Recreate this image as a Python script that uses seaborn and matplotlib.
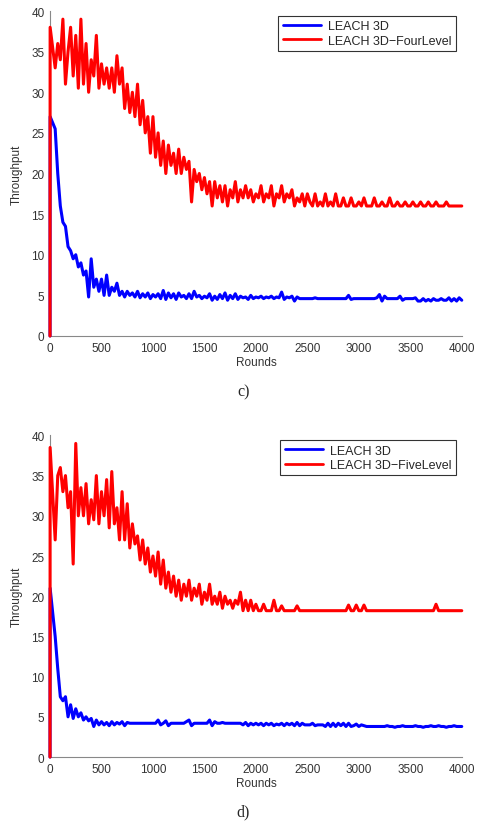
import numpy as np
import pandas as pd
import seaborn as sns
import matplotlib
matplotlib.use('Agg')
import matplotlib.pyplot as plt

# round 0, round 1, then every 25 rounds from 50 to 4000
rounds = [0, 1] + list(range(50, 4001, 25))

leach3d_c = [
    0, 27, 25.5, 20, 16, 14, 13.5, 11, 10.5, 9.5,
    10, 8.5, 9, 7.5, 8, 4.8, 9.5, 6, 7, 5.5,
    7, 5, 7.5, 5, 6, 5.5, 6.5, 5, 5.5, 4.8,
    5.5, 5, 5.3, 4.8, 5.5, 4.7, 5.2, 4.8, 5.3, 4.6,
    5.1, 4.8, 5.2, 4.6, 5.6, 4.5, 5.3, 4.7, 5.2, 4.5,
    5.3, 4.8, 5, 4.6, 5.2, 4.6, 5.5, 4.8, 5, 4.6,
    4.9, 4.7, 5.2, 4.4, 4.9, 4.5, 5.1, 4.6, 5.3, 4.4,
    5, 4.6, 5.2, 4.5, 4.9, 4.7, 4.8, 4.5, 5, 4.6,
    4.8, 4.7, 4.9, 4.6, 4.8, 4.7, 4.9, 4.6, 4.8, 4.7,
    5.4, 4.5, 4.8, 4.7, 4.9, 4.3, 4.8, 4.6, 4.6, 4.6,
    4.6, 4.6, 4.6, 4.7, 4.6, 4.6, 4.6, 4.6, 4.6, 4.6,
    4.6, 4.6, 4.6, 4.6, 4.6, 4.6, 5.0, 4.5, 4.6, 4.6,
    4.6, 4.6, 4.6, 4.6, 4.6, 4.6, 4.6, 4.7, 5.1, 4.3,
    4.9, 4.6, 4.6, 4.6, 4.6, 4.6, 4.9, 4.4, 4.6, 4.6,
    4.6, 4.6, 4.7, 4.3, 4.3, 4.6, 4.3, 4.5, 4.3, 4.6,
    4.4, 4.4, 4.6, 4.4, 4.4, 4.7, 4.3, 4.6, 4.3, 4.7,
    4.4,
]
fourlevel = [
    0, 38, 33, 36, 34, 39, 31, 35, 38, 32,
    37, 30.5, 39, 31, 36, 30, 34, 32, 37, 30.5,
    33.5, 31, 33, 30.5, 33, 30, 34.5, 31, 33, 28,
    31, 27.5, 30, 27, 31, 26, 29, 25, 27, 22.5,
    27, 22, 25, 21, 24, 20, 23.5, 21, 22.5, 20,
    23, 20, 22, 20.5, 21.5, 16.5, 20.5, 19, 20, 18,
    19.5, 17.5, 19, 16, 19, 17, 18.5, 16.5, 18.5, 16,
    18, 17, 19, 16.5, 18, 17, 18.5, 17, 18, 16.5,
    17.5, 17, 18.5, 16.5, 17.5, 17, 18.5, 16, 17.5, 17,
    18.5, 16.5, 17.5, 17, 18, 16, 17, 16.5, 17.5, 16,
    17.5, 16.5, 16, 17.5, 16, 16.5, 16, 17.5, 16, 16.5,
    16, 17.5, 16, 16, 17, 16, 16, 17, 16, 16,
    16.5, 16, 17, 16, 16, 16, 17, 16, 16, 16.5,
    16, 16, 17, 16, 16, 16.5, 16, 16, 16.5, 16,
    16, 16.5, 16, 16, 16.5, 16, 16, 16.5, 16, 16,
    16.5, 16, 16, 16, 16.5, 16, 16, 16, 16, 16,
    16,
]
leach3d_d = [
    0, 21, 15, 11, 7.5, 7, 7.5, 5, 6.5, 4.8,
    6, 5, 5.5, 4.6, 5, 4.5, 4.8, 3.8, 4.6, 4,
    4.4, 4, 4.3, 3.9, 4.4, 4, 4.3, 4.1, 4.4, 3.9,
    4.3, 4.2, 4.2, 4.2, 4.2, 4.2, 4.2, 4.2, 4.2, 4.2,
    4.2, 4.2, 4.6, 4, 4.2, 4.5, 3.9, 4.2, 4.2, 4.2,
    4.2, 4.2, 4.2, 4.4, 4.6, 3.9, 4.2, 4.2, 4.2, 4.2,
    4.2, 4.2, 4.6, 3.9, 4.4, 4.2, 4.2, 4.3, 4.2, 4.2,
    4.2, 4.2, 4.2, 4.2, 4.2, 4.0, 4.3, 3.9, 4.2, 4.0,
    4.2, 4.0, 4.2, 3.9, 4.2, 4.0, 4.2, 3.9, 4.1, 4.0,
    4.2, 3.9, 4.2, 4.0, 4.2, 3.9, 4.3, 3.9, 4.2, 4.0,
    4.0, 4.0, 4.2, 3.9, 4.0, 4.0, 4.0, 3.8, 4.2, 3.8,
    4.2, 3.8, 4.2, 3.9, 4.2, 3.8, 4.2, 3.8, 3.9, 4.1,
    3.8, 4.0, 3.9, 3.8, 3.8, 3.8, 3.8, 3.8, 3.8, 3.8,
    3.8, 3.9, 3.8, 3.8, 3.7, 3.8, 3.8, 3.9, 3.8, 3.8,
    3.8, 3.8, 3.9, 3.8, 3.8, 3.7, 3.8, 3.8, 3.9, 3.8,
    3.8, 3.9, 3.8, 3.8, 3.7, 3.8, 3.8, 3.9, 3.8, 3.8,
    3.8,
]
fivelevel = [
    0, 38.5, 27, 35, 36, 33, 35, 31, 33, 24,
    39, 30, 33.5, 30, 34, 29, 32, 29.5, 35, 29,
    33, 30, 34.5, 28.5, 35.5, 29, 31, 27, 33, 27,
    31.5, 26, 29, 26.5, 27.5, 24.5, 27, 24, 26, 23,
    25, 22.5, 25.5, 21.5, 24.5, 21, 23, 20.5, 22.5, 20,
    22, 19.5, 21.5, 20, 22, 19.5, 21, 20, 21.5, 19,
    20.5, 19.5, 21.5, 19, 20, 19, 20.5, 18.5, 20, 19,
    19.5, 18.5, 19.5, 19, 20.5, 18.2, 19.5, 18.2, 19.5, 18.2,
    19, 18.2, 18.2, 19, 18.2, 18.2, 18.2, 19.5, 18.2, 18.2,
    18.8, 18.2, 18.2, 18.2, 18.2, 18.2, 18.8, 18.2, 18.2, 18.2,
    18.2, 18.2, 18.2, 18.2, 18.2, 18.2, 18.2, 18.2, 18.2, 18.2,
    18.2, 18.2, 18.2, 18.2, 18.2, 18.2, 18.9, 18.2, 18.2, 18.9,
    18.2, 18.2, 18.9, 18.2, 18.2, 18.2, 18.2, 18.2, 18.2, 18.2,
    18.2, 18.2, 18.2, 18.2, 18.2, 18.2, 18.2, 18.2, 18.2, 18.2,
    18.2, 18.2, 18.2, 18.2, 18.2, 18.2, 18.2, 18.2, 18.2, 18.2,
    19.0, 18.2, 18.2, 18.2, 18.2, 18.2, 18.2, 18.2, 18.2, 18.2,
    18.2,
]

panels = [
    ('c)', leach3d_c, fourlevel, 'LEACH 3D\u2212FourLevel'),
    ('d)', leach3d_d, fivelevel, 'LEACH 3D\u2212FiveLevel'),
]

sns.set_style('white')
plt.rcParams['font.family'] = ['Liberation Sans', 'DejaVu Sans']

fig = plt.figure(figsize=(4.81, 8.29), dpi=100)
boxes = [[0.104, 0.5935, 0.856, 0.392], [0.104, 0.0856, 0.856, 0.388]]

for box, (cap, base, lvl, lvl_name) in zip(boxes, panels):
    ax = fig.add_axes(box)
    df = pd.DataFrame({'Rounds': rounds * 2,
                       'Throughput': base + lvl,
                       'series': ['LEACH 3D'] * len(rounds) + [lvl_name] * len(rounds)})
    sns.lineplot(data=df, x='Rounds', y='Throughput', hue='series',
                 palette=['#0000ff', '#ff0000'], linewidth=2.2, ax=ax)
    for line in ax.lines:
        line.set_clip_on(False)
        line.set_zorder(3)
    ax.set_xlim(0, 4000)
    ax.set_ylim(0, 40)
    ax.set_xticks(range(0, 4001, 500))
    ax.set_yticks(range(0, 41, 5))
    ax.set_xlabel('Rounds', fontsize=8.5, color='#333333', labelpad=2)
    ax.set_ylabel('Throughput', fontsize=8.5, color='#333333', labelpad=6)
    for s in ['top', 'right']:
        ax.spines[s].set_visible(False)
    for s in ['left', 'bottom']:
        ax.spines[s].set_color('#888888')
        ax.spines[s].set_linewidth(0.8)
    ax.tick_params(direction='in', length=3, width=0.7, color='#888888',
                   labelsize=8.5, labelcolor='#333333', pad=4)
    leg = ax.legend(loc='upper right', bbox_to_anchor=(0.985, 0.985), fontsize=9,
                    frameon=True, fancybox=False, edgecolor='black',
                    handlelength=3.1, borderpad=0.35, labelspacing=0.2,
                    handletextpad=0.5, borderaxespad=0)
    leg.get_frame().set_linewidth(0.8)
    for line in leg.get_lines():
        line.set_linewidth(2)
    ax.text(0.47, -0.17, cap, transform=ax.transAxes, ha='center', va='center',
            fontsize=11.5, family='Liberation Serif')

fig.savefig('out.png', dpi=100)
